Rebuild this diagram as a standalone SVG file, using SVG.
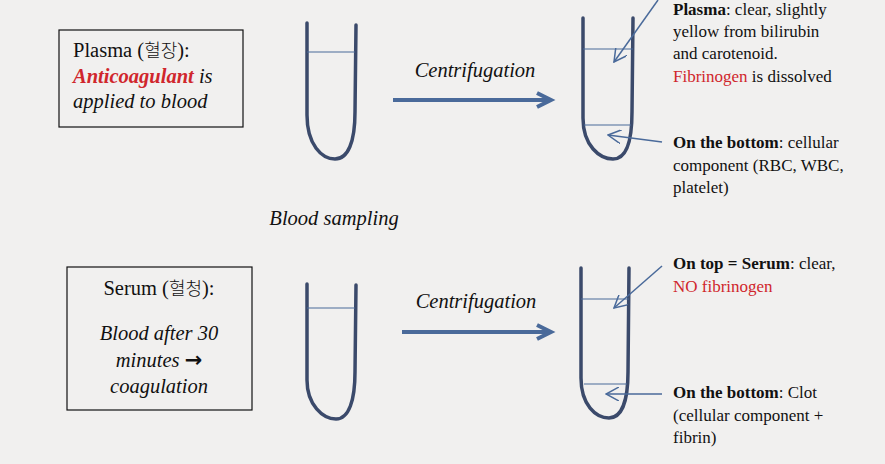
<svg xmlns="http://www.w3.org/2000/svg" width="885" height="464" viewBox="0 0 885 464">
<style>
text{font-family:'Liberation Serif','Times New Roman',serif;fill:#111}
.big{font-size:20.5px}
.sm{font-size:17px}
.it{font-style:italic}
.b{font-weight:bold}
.red{fill:#d0262c}
.ko{font-family:'Noto Sans CJK KR',sans-serif;font-size:18px;font-weight:300}
.tube{fill:none;stroke:#3b4a6b;stroke-width:3.5;stroke-linecap:round}
.lvl{stroke:#4a6a9a;stroke-width:1.2}
.box{fill:none;stroke:#111;stroke-width:1.2}
.bigarrow{fill:none;stroke:#4a6a9a;stroke-width:4;stroke-linejoin:miter}
.ptr{fill:none;stroke:#4a6a9a;stroke-width:1.5}
</style>
<defs>
<marker id="open" viewBox="0 0 14 14" refX="13" refY="7" markerWidth="14" markerHeight="14" markerUnits="userSpaceOnUse" orient="auto">
<path d="M0,0 L13,7 L0,14" fill="none" stroke="#4a6a9a" stroke-width="1.5"/>
</marker>
</defs>
<rect width="885" height="464" fill="#f1f0ef"/>

<g id="plasma-box">
<rect class="box" x="59" y="30" width="184" height="97"/>
<text class="big" x="73" y="57">Plasma (<tspan class="ko">혈장</tspan>):</text>
<text class="big it" x="73" y="83"><tspan class="b red">Anticoagulant</tspan> is</text>
<text class="big it" x="73" y="108">applied to blood</text>
</g>

<g id="tube-plasma-before">
<path class="tube" d="M307,23 L307,115 C307,145 322,159 335,159 C348,159 355,142 355,112 L356,25"/>
<line class="lvl" x1="307" y1="52" x2="355" y2="52"/>
</g>

<g id="tube-plasma-after">
<path class="tube" d="M583,18 L583,118 C583,146 600,159 613,159 C626,159 632,142 632,112 L633,18"/>
<line class="lvl" x1="583" y1="49" x2="633" y2="49"/>
<line class="lvl" x1="584" y1="125" x2="631" y2="125"/>
</g>

<g id="plasma-top-label">
<text class="sm" x="673" y="15"><tspan class="b">Plasma</tspan>: clear, slightly</text>
<text class="sm" x="673" y="37">yellow from bilirubin</text>
<text class="sm" x="673" y="59">and carotenoid.</text>
<text class="sm" x="673" y="82"><tspan class="red">Fibrinogen</tspan> is dissolved</text>
</g>

<g id="plasma-bottom-label">
<text class="sm" x="673" y="148"><tspan class="b">On the bottom</tspan>: cellular</text>
<text class="sm" x="673" y="171">component (RBC, WBC,</text>
<text class="sm" x="673" y="193">platelet)</text>
</g>

<g id="blood-sampling">
<text class="big it" x="334" y="225" text-anchor="middle">Blood sampling</text>
</g>

<g id="serum-box">
<rect class="box" x="67" y="267" width="185" height="143"/>
<text class="big" x="159" y="295" text-anchor="middle">Serum (<tspan class="ko">혈청</tspan>):</text>
<text class="big it" x="159" y="340" text-anchor="middle">Blood after 30</text>
<text class="big it" x="159" y="367" text-anchor="middle">minutes <tspan font-style="normal" font-weight="bold" font-family="DejaVu Sans" font-size="21">→</tspan></text>
<text class="big it" x="159" y="393" text-anchor="middle">coagulation</text>
</g>

<g id="tube-serum-before">
<path class="tube" d="M307,284 L307,380 C307,405 323,419 336,419 C349,419 355,400 355,372 L356,285"/>
<line class="lvl" x1="307" y1="308" x2="355" y2="308"/>
</g>

<g id="tube-serum-after">
<path class="tube" d="M581,268 L581,378 C581,405 596,418 609,418 C622,418 628,400 628,372 L629,268"/>
<line class="lvl" x1="581" y1="299" x2="629" y2="299"/>
<line class="lvl" x1="584" y1="384" x2="627" y2="384"/>
</g>

<g id="serum-top-label">
<text class="sm" x="673" y="269"><tspan class="b">On top = Serum</tspan>: clear,</text>
<text class="sm red" x="673" y="292">NO fibrinogen</text>
</g>

<g id="serum-bottom-label">
<text class="sm" x="673" y="398"><tspan class="b">On the bottom</tspan>: Clot</text>
<text class="sm" x="673" y="421">(cellular component +</text>
<text class="sm" x="673" y="443">fibrin)</text>
</g>

<g id="centrifugation-labels">
<text class="big it" x="475" y="77" text-anchor="middle">Centrifugation</text>
<text class="big it" x="476" y="308" text-anchor="middle">Centrifugation</text>
</g>

<g id="connectors">
<line class="bigarrow" x1="393" y1="100" x2="550" y2="100"/>
<polyline class="bigarrow" points="537,93 551,100 537,107"/>
<line class="bigarrow" x1="402" y1="332" x2="550" y2="332"/>
<polyline class="bigarrow" points="537,325 551,332 537,339"/>
<line class="ptr" x1="658" y1="0" x2="614" y2="62" marker-end="url(#open)"/>
<line class="ptr" x1="662" y1="142" x2="608" y2="135" marker-end="url(#open)"/>
<line class="ptr" x1="662" y1="266" x2="614" y2="308" marker-end="url(#open)"/>
<line class="ptr" x1="662" y1="394" x2="606" y2="394" marker-end="url(#open)"/>
</g>
</svg>
